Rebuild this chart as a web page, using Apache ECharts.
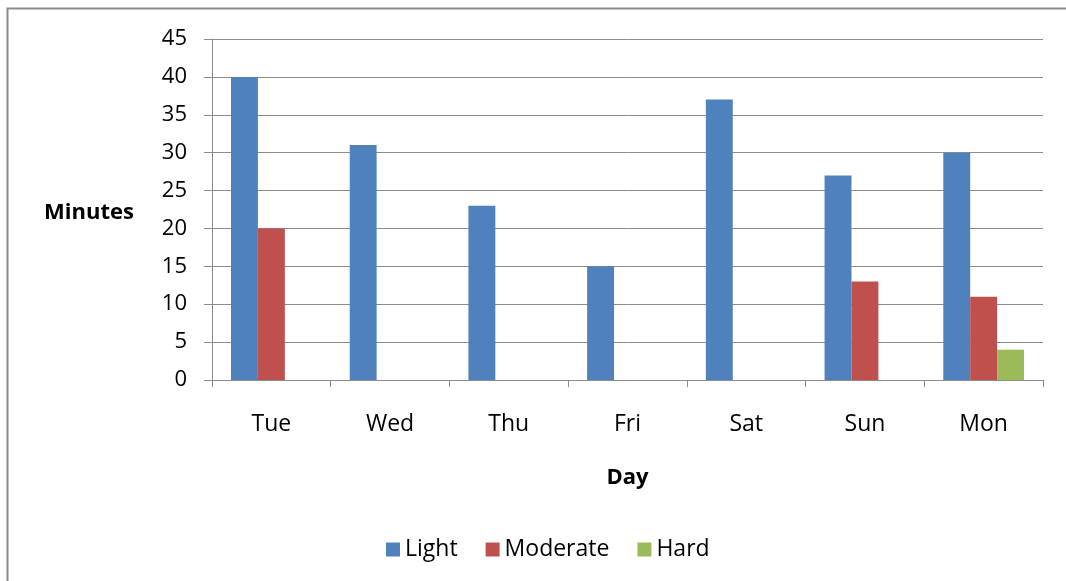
<!DOCTYPE html>
<html><head><meta charset="utf-8">
<script src="https://cdn.jsdelivr.net/npm/echarts@6/dist/echarts.min.js"></script>
<style>html,body{margin:0;padding:0;background:#fff}#c{width:1066px;height:581px}</style>
</head><body><div id="c"></div>
<script>
var categories = ['Tue','Wed','Thu','Fri','Sat','Sun','Mon'];
var light = [40, 31, 23, 15, 37, 27, 30];
var moderate = [20, 0, 0, 0, 0, 13, 11];
var hard = [0, 0, 0, 0, 0, 0, 4];
var yTicks = [0, 5, 10, 15, 20, 25, 30, 35, 40, 45];

var FONT = 'Open Sans';
var chart = echarts.init(document.getElementById('c'), null, {renderer:'canvas'});
chart.setOption({
  animation: false,
  textStyle: {fontFamily: FONT},
  graphic: [
    {type:'rect', shape:{x:7.5, y:8.5, width:1070, height:600}, style:{fill:null, stroke:'#8c8c8c', lineWidth:2}},
    {type:'text', left:44, top:202, style:{text:'Minutes', font:'bold 22px "'+FONT+'"', fill:'#000'}}
  ],
  grid: {left:212, right:23, top:39, bottom:201},
  legend: {
    left: 381, top: 533, itemWidth: 14, itemHeight: 14, itemGap: 28,
    icon: 'rect',
    textStyle: {fontSize: 23, color:'#000', fontFamily: FONT},
    data: ['Light','Moderate','Hard']
  },
  xAxis: {
    type:'category', data: categories,
    name:'Day', nameLocation:'middle', nameGap: 87,
    nameTextStyle:{fontWeight:'bold', fontSize:22, color:'#000', fontFamily:FONT},
    axisLine:{lineStyle:{color:'#8c8c8c'}},
    axisTick:{show:true, length:7, lineStyle:{color:'#8c8c8c'}},
    axisLabel:{fontSize:23, color:'#000', margin:33, fontFamily:FONT}
  },
  yAxis: {
    type:'value', min: yTicks[0], max: yTicks[yTicks.length-1], interval: 5,
    axisLine:{show:true, lineStyle:{color:'#8c8c8c'}},
    axisTick:{show:true, inside:false, length:8, lineStyle:{color:'#8c8c8c'}},
    axisLabel:{fontSize:22, color:'#000', margin:25, fontFamily:FONT},
    splitLine:{lineStyle:{color:'#8c8c8c'}}
  },
  series: [
    {name:'Light', type:'bar', data: light, itemStyle:{color:'#4f81bd'}, barGap:'0%', barCategoryGap:'32%'},
    {name:'Moderate', type:'bar', data: moderate, itemStyle:{color:'#c0504d'}},
    {name:'Hard', type:'bar', data: hard, itemStyle:{color:'#9bbb59'}}
  ]
});
</script></body></html>
